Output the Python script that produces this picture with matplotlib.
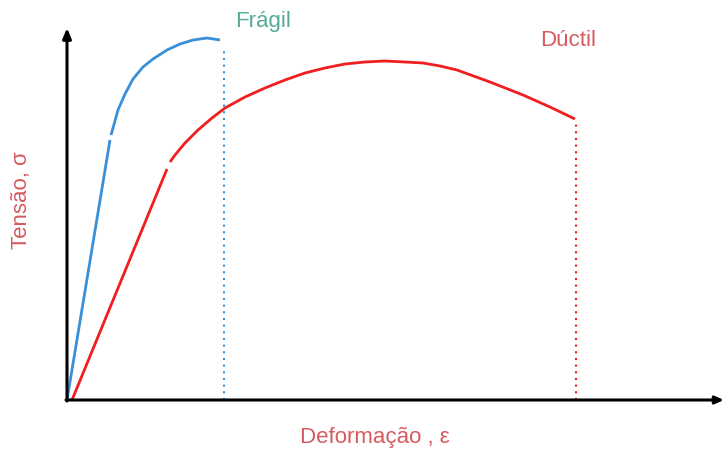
#!/usr/bin/env python3
"""Stress-strain sketch: brittle vs ductile material."""

import matplotlib.pyplot as plt

# elastic / plastic segments (arbitrary units)
fragil_elastic_x = [0, 43]
fragil_elastic_y = [0, 260]
fragil_plastic_x = [44, 46, 51, 58, 66, 76, 86, 100, 113, 126, 140, 153]
fragil_plastic_y = [265, 272, 290, 306, 321, 333, 341, 350, 356, 360, 362, 360]

ductil_elastic_x = [5, 100]
ductil_elastic_y = [0, 231]
ductil_plastic_x = [103, 108, 118, 131, 145, 158, 178, 198, 218, 238, 258, 278,
                    298, 318, 338, 356, 373, 390, 423, 456, 483, 508]
ductil_plastic_y = [238, 245, 257, 270, 282, 292, 303, 312, 320, 327, 332, 336,
                    338, 339, 338, 337, 334, 330, 318, 305, 293, 281]

fragil_rupture = 157
ductil_rupture = 509

RED = "#f01e1e"
BLUE = "#3a8fd9"
LABEL_RED = "#d65a60"
LABEL_TEAL = "#55ab97"

fig = plt.figure(figsize=(7.24, 4.51), dpi=100)
ax = fig.add_axes([0, 0, 1, 1])
ax.set_xlim(-67, 657)
ax.set_ylim(-51, 400)
ax.axis("off")

# axes with arrows
ax.annotate("", xy=(657, 0), xytext=(-1, 0),
            arrowprops=dict(arrowstyle="-|>,head_length=0.5,head_width=0.22",
                            color="black", lw=2.2, shrinkA=0, shrinkB=0))
ax.annotate("", xy=(0, 372), xytext=(0, -1),
            arrowprops=dict(arrowstyle="-|>,head_length=0.6,head_width=0.25",
                            color="black", lw=2.2, shrinkA=0, shrinkB=0))

# curves
ax.plot(fragil_elastic_x, fragil_elastic_y, color=BLUE, lw=2, solid_capstyle="butt")
ax.plot(fragil_plastic_x, fragil_plastic_y, color=BLUE, lw=2, solid_capstyle="butt",
        solid_joinstyle="round")
ax.plot(ductil_elastic_x, ductil_elastic_y, color=RED, lw=2, solid_capstyle="butt")
ax.plot(ductil_plastic_x, ductil_plastic_y, color=RED, lw=2, solid_capstyle="butt",
        solid_joinstyle="round")

# rupture markers
ax.plot([fragil_rupture, fragil_rupture], [0, fragil_plastic_y[-1] - 8],
        color=BLUE, lw=1.5, linestyle=(0, (1, 2.2)))
ax.plot([ductil_rupture, ductil_rupture], [0, ductil_plastic_y[-1] - 3],
        color=RED, lw=1.5, linestyle=(0, (1, 2.2)))

font = ["Liberation Sans", "DejaVu Sans"]
ax.text(168, 378, "Frágil", color=LABEL_TEAL, fontsize=16, family=font,
        ha="left", va="center")
ax.text(473, 359, "Dúctil", color=LABEL_RED, fontsize=16, family=font,
        ha="left", va="center")
ax.text(-45, 200, "Tensão, σ", color=LABEL_RED, fontsize=16, family=font,
        rotation=90, ha="center", va="center")
ax.text(233, -38, "Deformação , ε", color=LABEL_RED, fontsize=16, family=font,
        ha="left", va="center")

fig.savefig("out.png", dpi=100)
plt.close()
